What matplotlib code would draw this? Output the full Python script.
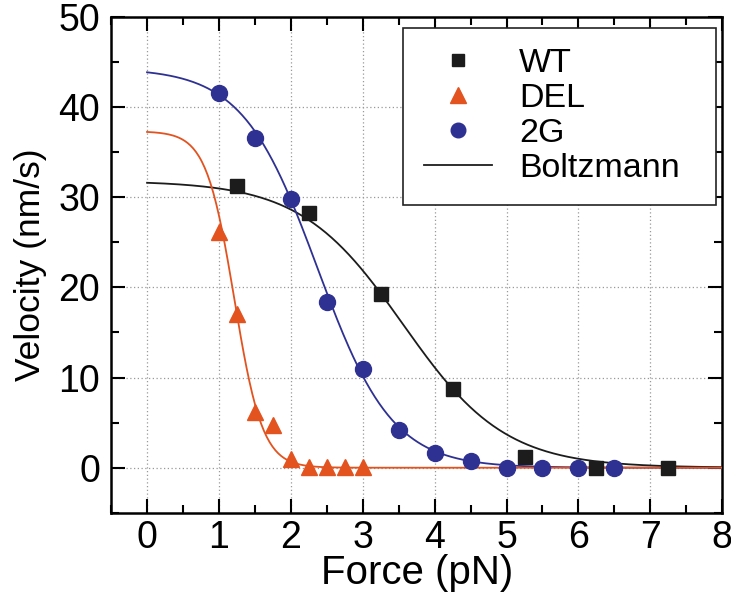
import numpy as np
import matplotlib
matplotlib.use('Agg')
import matplotlib.pyplot as plt
from matplotlib.lines import Line2D
from matplotlib.ticker import MultipleLocator

plt.rcParams['font.family'] = ['Liberation Sans', 'DejaVu Sans']

## measured points
wt_force = [1.25, 2.25, 3.25, 4.25, 5.25, 6.25, 7.25]
wt_vel = [31.2, 28.2, 19.3, 8.7, 1.2, 0.0, 0.0]

del_force = [1.0, 1.25, 1.5, 1.75, 2.0, 2.25, 2.5, 2.75, 3.0]
del_vel = [26.1, 17.0, 6.2, 4.7, 1.0, 0.1, 0.1, 0.1, 0.1]

g2_force = [1.0, 1.5, 2.0, 2.5, 3.0, 3.5, 4.0, 4.5, 5.0, 5.5, 6.0, 6.5]
g2_vel = [41.5, 36.5, 29.8, 18.4, 11.0, 4.2, 1.6, 0.7, 0.0, 0.0, 0.0, 0.0]

## Boltzmann fit parameters (amplitude, midpoint, width)
wt_fit = [31.8, 3.56, 0.71]
del_fit = [37.3, 1.215, 0.196]
g2_fit = [44.3, 2.37, 0.52]

c_wt = '#1c1c1c'
c_del = '#e2531f'
c_g2 = '#2e3192'


def boltzmann(f, params):
    a, f0, w = params
    return a / (1 + np.exp((f - f0) / w))


fig = plt.figure(figsize=(7.31, 5.97), dpi=100)
ax = fig.add_axes([0.152, 0.141, 0.836, 0.831])

f = np.linspace(0, 8, 400)
ax.plot(f, boltzmann(f, wt_fit), color=c_wt, lw=1.3, zorder=3)
ax.plot(f, boltzmann(f, g2_fit), color=c_g2, lw=1.3, zorder=3)
ax.plot(f, boltzmann(f, del_fit), color=c_del, lw=1.3, zorder=3)

ax.plot(wt_force, wt_vel, 's', color=c_wt, ms=10.5, zorder=4)
ax.plot(del_force, del_vel, '^', color=c_del, ms=12, zorder=4)
ax.plot(g2_force, g2_vel, 'o', color=c_g2, ms=11.5, zorder=4)

ax.set_xlim(-0.5, 8)
ax.set_ylim(-5, 50)
ax.xaxis.set_minor_locator(MultipleLocator(0.5))
ax.yaxis.set_minor_locator(MultipleLocator(5))
ax.set_xticks(range(0, 9))
ax.set_yticks(range(0, 51, 10))

ax.tick_params(which='both', direction='in', top=True, right=True, width=1.5, labelsize=27)
ax.tick_params(axis='x', pad=5)
ax.tick_params(axis='y', pad=8)
ax.tick_params(which='major', length=10)
ax.tick_params(which='minor', length=6)
for s in ax.spines.values():
    s.set_linewidth(1.8)

ax.grid(True, which='major', color='#999999', linestyle=(0, (1, 2)), linewidth=0.9)
ax.set_axisbelow(True)

ax.set_xlabel('Force (pN)', fontsize=29, labelpad=-1)
ax.set_ylabel('Velocity (nm/s)', fontsize=25.5, labelpad=8)

## legend
handles = [
    Line2D([], [], marker='s', color=c_wt, ls='none', ms=8.5),
    Line2D([], [], marker='^', color=c_del, ls='none', ms=11),
    Line2D([], [], marker='o', color=c_g2, ls='none', ms=10.5),
    Line2D([], [], color=c_wt, lw=1.3),
]
leg = ax.legend(handles, ['WT', 'DEL', '2G', 'Boltzmann'], loc='upper left',
                bbox_to_anchor=(0.478, 0.623, 0.511, 0.355), mode='expand',
                fontsize=24.5, frameon=True, fancybox=False,
                handlelength=2.0, handletextpad=0.8, borderpad=0.6, labelspacing=0.12,
                borderaxespad=0)
leg.get_frame().set_edgecolor('#222222')
leg.get_frame().set_linewidth(1.2)
leg.get_frame().set_alpha(1)

fig.savefig('out.png', dpi=100)
